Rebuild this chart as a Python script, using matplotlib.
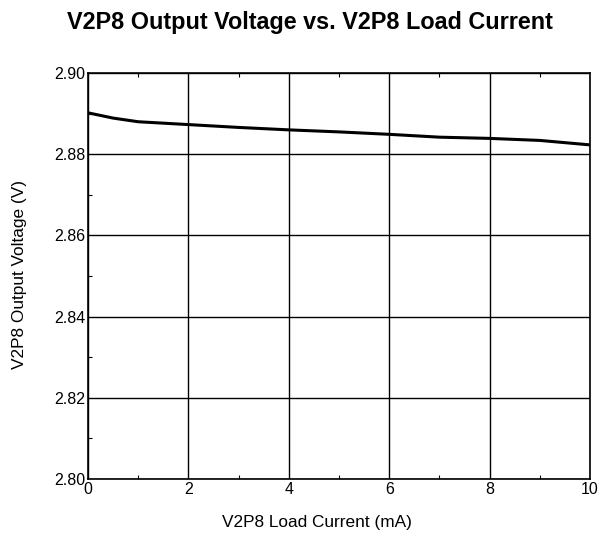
import numpy as np
import matplotlib.pyplot as plt
from matplotlib.ticker import MultipleLocator

plt.rcParams["font.family"] = ["Liberation Sans", "DejaVu Sans"]

# ── data ──────────────────────────────────────────────────────────────────────
load_ma = [0, 0.5, 1, 2, 3, 4, 5, 6, 7, 8, 9, 10]
v_out   = [2.8902, 2.8889, 2.8880, 2.8873, 2.8866, 2.8860, 2.8855, 2.8849,
           2.8842, 2.8839, 2.8834, 2.8823]

fig = plt.figure(figsize=(6.13, 5.37), dpi=100)
ax = fig.add_axes([0.1436, 0.108, 0.819, 0.756])

ax.plot(load_ma, v_out, color="black", linewidth=2.2)

ax.set_xlim(0, 10)
ax.set_ylim(2.80, 2.90)
ax.xaxis.set_major_locator(MultipleLocator(2))
ax.xaxis.set_minor_locator(MultipleLocator(1))
ax.yaxis.set_major_locator(MultipleLocator(0.02))
ax.yaxis.set_minor_locator(MultipleLocator(0.01))
ax.yaxis.set_major_formatter(plt.FormatStrFormatter("%.2f"))
ax.grid(True, which="major", color="black", linewidth=1.0)
ax.tick_params(which="both", direction="in", top=True, right=False,
               labelsize=11.5, length=0, pad=2)
ax.tick_params(which="minor", length=3, width=0.8)
for s in ax.spines.values():
    s.set_linewidth(1.2)

# axis titles are centred on the figure rather than on the plot area
fig.text(0.517, 0.027, "V2P8 Load Current (mA)", fontsize=12.4,
         ha="center", va="center")
fig.text(0.032, 0.488, "V2P8 Output Voltage (V)", fontsize=12.4,
         ha="center", va="center", rotation=90)
fig.suptitle("V2P8 Output Voltage vs. V2P8 Load Current",
             fontsize=16.8, fontweight="bold", x=0.506, y=0.98)

fig.savefig("out.png", dpi=100)
